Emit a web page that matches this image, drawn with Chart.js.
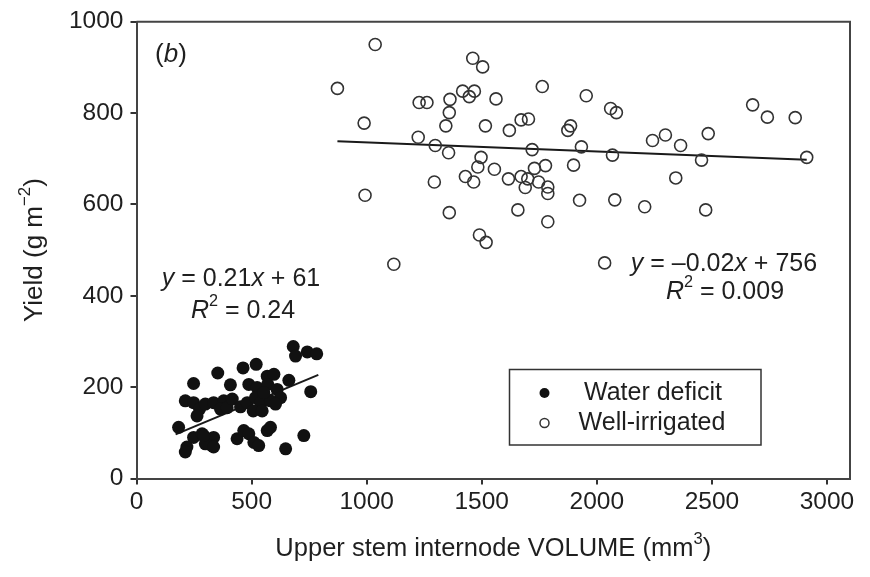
<!DOCTYPE html>
<html>
<head>
<meta charset="utf-8">
<script src="https://cdn.jsdelivr.net/npm/chart.js@4/dist/chart.umd.min.js"></script>
<style>
  html, body { margin: 0; padding: 0; background: #fff; }
  #wrap { width: 870px; height: 577px; position: relative; }
</style>
</head>
<body>
<div id="wrap"><canvas id="c" width="870" height="577"></canvas></div>
<script>
// ---- Data ----
const waterDeficitX = [681,691,742,783,353,463,520,248,408,488,524,568,597,570,662,757,611,626,212,248,274,299,263,335,379,365,394,416,452,481,517,539,507,546,582,604,553,183,248,285,335,328,299,219,212,437,466,488,510,531,568,582,648,727,292,335];
const waterDeficitY = [289,268,277,273,231,242,250,208,205,206,199,224,228,206,215,190,195,177,170,166,152,163,137,166,170,152,155,174,157,166,177,166,148,148,170,163,188,112,90,98,90,72,76,69,58,87,105,98,79,72,105,112,65,94,94,69];

const wellIrrigatedX = [873,1037,989,993,1118,1461,1504,1228,1262,1362,1359,1344,1417,1446,1468,1562,1516,1620,1671,1703,1763,1874,1886,1224,1298,1356,1497,1483,1555,1429,1465,1294,1616,1671,1700,1689,1747,1729,1777,1787,1787,1719,1899,1933,1925,1359,1657,1787,1490,1519,1954,2060,2085,2068,2078,2208,2242,2298,2364,2343,2455,2484,2473,2677,2741,2862,2912,2034];
const wellIrrigatedY = [854,950,778,620,469,920,901,823,823,830,801,772,848,836,848,831,772,762,785,787,858,762,772,747,729,713,703,682,677,661,649,649,656,661,656,637,649,679,685,638,624,720,686,726,609,582,588,562,533,517,838,810,801,708,610,595,740,752,729,658,697,755,588,818,791,790,703,472];

// regression: [slope, intercept], x-range of fitted line
const fitDeficit = [0.21, 61];
const fitDeficitRange = [170, 790];
const fitIrrigated = [-0.02, 756];
const fitIrrigatedRange = [873, 2912];

const xTicks = [0, 500, 1000, 1500, 2000, 2500, 3000];
const yTicks = [0, 200, 400, 600, 800, 1000];
const seriesNames = ['Water deficit', 'Well-irrigated'];

// ---- build datasets ----
const pts = (xs, ys) => xs.map((x, i) => ({x: x, y: ys[i]}));
const line = (f, r) => r.map(x => ({x: x, y: f[0] * x + f[1]}));

const FONT = '"Liberation Sans", Arial, Helvetica, sans-serif';
const INK = '#1f1f1f';

// text helper: runs with italic / superscript flags
function drawRuns(ctx, runs, cx, cy, size) {
  const widths = runs.map(r => {
    const fs = r.sup ? size * 0.65 : size;
    ctx.font = (r.it ? 'italic ' : '') + fs + 'px ' + FONT;
    return ctx.measureText(r.t).width;
  });
  const total = widths.reduce((a, b) => a + b, 0);
  let x = cx - total / 2;
  runs.forEach((r, i) => {
    const fs = r.sup ? size * 0.65 : size;
    ctx.font = (r.it ? 'italic ' : '') + fs + 'px ' + FONT;
    ctx.fillText(r.t, x, r.sup ? cy - size * 0.36 : cy);
    x += widths[i];
  });
}

const overlay = {
  id: 'overlay',
  afterDraw(chart) {
    const ctx = chart.ctx;
    const a = chart.chartArea;
    ctx.save();
    // frame top & right
    ctx.strokeStyle = '#444';
    ctx.lineWidth = 2;
    ctx.beginPath();
    ctx.moveTo(a.left, a.top);
    ctx.lineTo(a.right, a.top);
    ctx.lineTo(a.right, a.bottom);
    ctx.stroke();

    ctx.fillStyle = INK;
    ctx.textBaseline = 'middle';
    ctx.textAlign = 'left';
    // panel label
    drawRuns(ctx, [{t: '('}, {t: 'b', it: true}, {t: ')'}], 171, 55, 26);
    // equations
    drawRuns(ctx, [{t: 'y', it: true}, {t: ' = 0.21'}, {t: 'x', it: true}, {t: ' + 61'}], 241, 279, 25);
    drawRuns(ctx, [{t: 'R', it: true}, {t: '2', sup: true}, {t: ' = 0.24'}], 243, 311, 25);
    drawRuns(ctx, [{t: 'y', it: true}, {t: ' = \u20130.02'}, {t: 'x', it: true}, {t: ' + 756'}], 724, 264, 25);
    drawRuns(ctx, [{t: 'R', it: true}, {t: '2', sup: true}, {t: ' = 0.009'}], 725, 292, 25);

    // axis titles
    drawRuns(ctx, [{t: 'Upper stem internode VOLUME (mm'}, {t: '3', sup: true}, {t: ')'}], (a.left + a.right) / 2, 549, 25.5);
    ctx.save();
    ctx.translate(35, (a.top + a.bottom) / 2);
    ctx.rotate(-Math.PI / 2);
    drawRuns(ctx, [{t: 'Yield (g m'}, {t: '\u22122', sup: true}, {t: ')'}], 0, 0, 26);
    ctx.restore();

    // legend box
    const lx = 509.5, ly = 369.5, lw = 251.5, lh = 75.5;
    ctx.strokeStyle = '#333';
    ctx.lineWidth = 1.5;
    ctx.strokeRect(lx, ly, lw, lh);
    ctx.fillStyle = '#111';
    ctx.beginPath(); ctx.arc(544.5, 393, 5, 0, Math.PI * 2); ctx.fill();
    ctx.fillStyle = '#fff';
    ctx.beginPath(); ctx.arc(544.5, 423, 4.5, 0, Math.PI * 2); ctx.fill();
    ctx.strokeStyle = '#333'; ctx.lineWidth = 1.5; ctx.stroke();
    ctx.fillStyle = INK;
    drawRuns(ctx, [{t: seriesNames[0]}], 653, 393, 25);
    drawRuns(ctx, [{t: seriesNames[1]}], 652, 423, 25);
    ctx.restore();
  }
};

new Chart(document.getElementById('c'), {
  type: 'scatter',
  data: {
    datasets: [
      { label: seriesNames[1] + ' fit', type: 'line', data: line(fitIrrigated, fitIrrigatedRange),
        borderColor: '#1a1a1a', borderWidth: 2, pointRadius: 0, fill: false, order: 3 },
      { label: seriesNames[0] + ' fit', type: 'line', data: line(fitDeficit, fitDeficitRange),
        borderColor: '#1a1a1a', borderWidth: 2, pointRadius: 0, fill: false, order: 3 },
      { label: seriesNames[1], data: pts(wellIrrigatedX, wellIrrigatedY),
        pointRadius: 6, pointBackgroundColor: 'rgba(255,255,255,0)', pointBorderColor: '#333',
        pointBorderWidth: 1.6, order: 1 },
      { label: seriesNames[0], data: pts(waterDeficitX, waterDeficitY),
        pointRadius: 6.5, pointBackgroundColor: '#111', pointBorderColor: '#111',
        pointBorderWidth: 0, order: 2 }
    ]
  },
  options: {
    responsive: false,
    animation: false,
    layout: { padding: { left: 0, right: 20, top: 18, bottom: 0 } },
    plugins: { legend: { display: false }, tooltip: { enabled: false } },
    scales: {
      x: {
        type: 'linear', min: 0, max: 3100,
        afterBuildTicks: s => { s.ticks = xTicks.map(v => ({value: v})); },
        afterFit: s => { s.height = 577 - 478.5; },
        grid: { drawOnChartArea: false, drawTicks: true, tickLength: 6, color: '#333', lineWidth: 2 },
        border: { display: true, color: '#444', width: 2 },
        ticks: { color: INK, font: { family: FONT, size: 24.5 }, padding: 3, maxRotation: 0, autoSkip: false,
                 callback: v => String(v) }
      },
      y: {
        type: 'linear', min: 0, max: 1000,
        afterBuildTicks: s => { s.ticks = yTicks.map(v => ({value: v})); },
        afterFit: s => { s.width = 136.5; },
        grid: { drawOnChartArea: false, drawTicks: true, tickLength: 6, color: '#333', lineWidth: 2 },
        border: { display: true, color: '#444', width: 2 },
        ticks: { color: INK, font: { family: FONT, size: 24.5 }, padding: 7, callback: v => String(v) }
      }
    }
  },
  plugins: [overlay]
});
</script>
</body>
</html>
